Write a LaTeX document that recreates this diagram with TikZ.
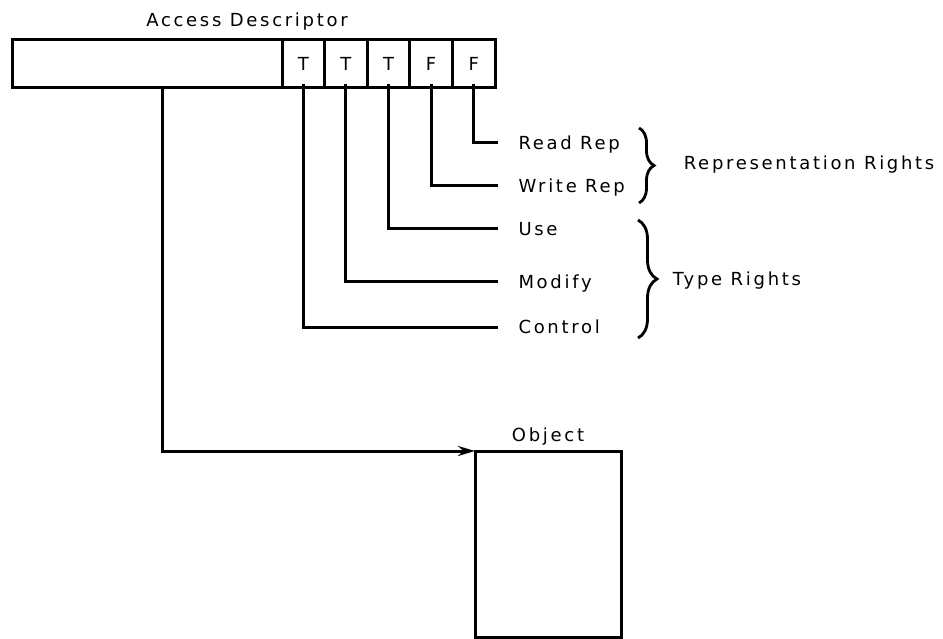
\documentclass[tikz,border=0pt]{standalone}
\usepackage{fontspec}
\setmainfont[LetterSpace=15]{DejaVu Sans}
\usetikzlibrary{positioning,arrows.meta,decorations.pathreplacing}

\begin{document}
\begin{tikzpicture}[x=1pt, y=-1pt, >={Stealth[length=17pt,width=10pt]},
		font=\fontsize{18}{21}\selectfont, line width=3pt,
		field/.style={draw, minimum height=48pt, inner sep=0pt, outer sep=0pt},
		cell/.style={field, minimum width=42.6pt},
		lbl/.style={anchor=west, inner sep=0pt, text height=13pt, text depth=0pt},
		brc/.style={decorate, decoration={brace, amplitude=#1}, line width=2.8pt}]
		\useasboundingbox (0,0) rectangle (943,639);
		\node (title) at (247,22) {Access Descriptor};
		\node[field, minimum width=270pt, anchor=north west] (ad) at (12,40) {};
		\node[cell, right=0pt of ad] (c1) {T};
		\node[cell, right=0pt of c1] (c2) {T};
		\node[cell, right=0pt of c2] (c3) {T};
		\node[cell, right=0pt of c3] (c4) {F};
		\node[cell, right=0pt of c4] (c5) {F};
		\node[lbl] (rrep) at (517,143) {Read Rep};
		\node[lbl] (wrep) at (517,186) {Write Rep};
		\node[lbl] (use) at (517,229) {Use};
		\node[lbl] (mod) at (517,282) {Modify};
		\node[lbl] (ctl) at (517,327) {Control};
		\draw ([yshift=4pt]c5.south) |- ([xshift=-19pt]rrep.west);
		\draw ([yshift=4pt]c4.south) |- ([xshift=-19pt]wrep.west);
		\draw ([yshift=4pt]c3.south) |- ([xshift=-19pt]use.west);
		\draw ([yshift=4pt]c2.south) |- ([xshift=-19pt]mod.west);
		\draw ([yshift=4pt]c1.south) |- ([xshift=-19pt]ctl.west);
		\draw[brc=15pt] (639,128) -- (639,203);
		\draw[brc=19pt] (638,220) -- (638,338);
		\node[anchor=west] (reprights) at (679,165) {Representation Rights};
		\node[anchor=west] (typerights) at (668,281) {Type Rights};
		\node[draw, minimum width=146pt, minimum height=186pt, outer sep=0pt, anchor=north west] (obj) at (475,451) {};
		\node[above=1pt of obj] (objlbl) {Object};
		\draw[->] ([xshift=15pt]ad.south) |- (obj.north west);
	\end{tikzpicture}
\end{document}
